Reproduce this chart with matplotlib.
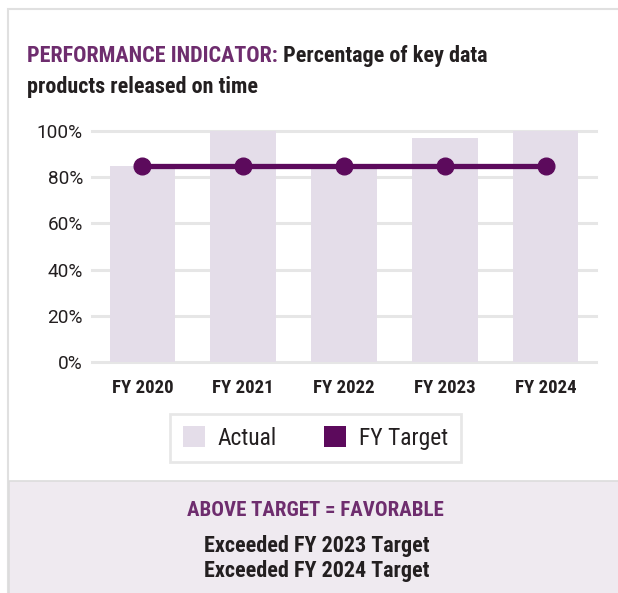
import matplotlib
matplotlib.use("Agg")
import matplotlib.pyplot as plt
from matplotlib.patches import Rectangle, Patch
from matplotlib import font_manager as fm

categories = ["FY 2020", "FY 2021", "FY 2022", "FY 2023", "FY 2024"]
actual = [85, 100, 85, 97, 100]
target = [85, 85, 85, 85, 85]
yticks = [0, 20, 40, 60, 80, 100]
ytick_labels = ["0%", "20%", "40%", "60%", "80%", "100%"]

W, H = 618, 593
BAR = "#E4DDE9"
LINE = "#5C0A5C"
PURPLE = "#6E2D6E"
DARK = "#231F20"
GRID = "#E6E6E6"


def pick_font(bold):
    """Find the narrowest installed sans font file."""
    cands = []
    for f in fm.fontManager.ttflist:
        name = f.name.lower()
        fname = f.fname.lower()
        is_bold = (f.weight in ("bold", 700, 800, "heavy", "extra bold")
                   or (isinstance(f.weight, int) and f.weight >= 600)
                   or "bold" in fname)
        if bold != is_bold:
            continue
        if "italic" in fname or "oblique" in fname or f.style != "normal":
            continue
        narrow = ("narrow" in name or "narrow" in fname or "condensed" in name
                  or "condensed" in fname or "condensed" in str(f.stretch))
        if not narrow or "mono" in name or "serif" in name and "sans" not in name:
            continue
        if "semi" in fname or "extra" in fname or "ultra" in fname:
            pri = 5
        else:
            pri = 0
        if "liberation" in name:
            pri += 0
        elif "roboto" in name:
            pri += 1
        elif "open" in name:
            pri += 2
        elif "noto" in name:
            pri += 3
        else:
            pri += 4
        cands.append((pri, f.fname))
    if cands:
        cands.sort()
        return fm.FontProperties(fname=cands[0][1])
    return fm.FontProperties(family=["Roboto", "Liberation Sans", "DejaVu Sans"],
                             weight="bold" if bold else "normal")


FB = pick_font(True)
FR = pick_font(False)
FTICK = fm.FontProperties(family=["Roboto", "DejaVu Sans"])

fig = plt.figure(figsize=(W / 100, H / 100), dpi=100)
fig.patch.set_facecolor("white")


def fx(px):
    return px / W


def fy(py):
    return 1 - py / H


fig.patches.append(Rectangle((fx(7.5), fy(592)), fx(700), fy(8.5) - fy(592),
                             transform=fig.transFigure, facecolor="white",
                             edgecolor="#E0E0E0", linewidth=1.5, zorder=-2))
fig.patches.append(Rectangle((fx(8.5), fy(600)), fx(700), fy(481) - fy(600),
                             transform=fig.transFigure, facecolor="#EFEAF0",
                             edgecolor="#DCDCDC", linewidth=1.2, zorder=-1))

ax = fig.add_axes([fx(92), fy(362), fx(596) - fx(92), fy(131) - fy(362)])
ax.set_facecolor("none")
x = list(range(len(categories)))
ax.bar(x, actual, width=0.65, color=BAR, zorder=2)
ax.plot(x, target, color=LINE, linewidth=3.8, marker="o", markersize=12, zorder=3)
ax.set_xlim(-0.5, 4.5)
ax.set_ylim(0, 100)
for t in yticks:
    ax.axhline(t, color=GRID, linewidth=2.2, zorder=1, clip_on=False)
for s in ax.spines.values():
    s.set_visible(False)
ax.set_yticks(yticks)
ax.set_yticklabels(ytick_labels, fontproperties=FTICK, color=DARK)
ax.set_xticks(x)
ax.set_xticklabels(categories, fontproperties=FB, color=DARK)
ax.tick_params(axis="y", length=0, pad=6.5)
ax.tick_params(axis="x", length=0, pad=12)

renderer = fig.canvas.get_renderer()


def width_px(artists):
    fig.canvas.draw()
    bbs = [a.get_window_extent(renderer) for a in artists]
    return max(b.x1 for b in bbs) - min(b.x0 for b in bbs)


def fit(artists, target_w):
    for a in artists:
        a.set_fontsize(12)
    w = width_px(artists)
    for a in artists:
        a.set_fontsize(12 * target_w / w)
    return 12 * target_w / w


fit([ax.get_yticklabels()[-1]], 46)
s = ax.get_yticklabels()[-1].get_fontsize()
for lab in ax.get_yticklabels():
    lab.set_fontsize(s)
fit([ax.get_xticklabels()[0]], 61)
s = ax.get_xticklabels()[0].get_fontsize()
for lab in ax.get_xticklabels():
    lab.set_fontsize(s)

# title
t1 = fig.text(fx(27), fy(62), "PERFORMANCE INDICATOR:", fontproperties=FB,
              color=PURPLE, va="baseline", ha="left")
t2 = fig.text(fx(260), fy(62), " Percentage of key data", fontproperties=FB,
              color=DARK, va="baseline", ha="left")
t3 = fig.text(fx(27), fy(93), "products released on time", fontproperties=FB,
              color=DARK, va="baseline", ha="left")
for a in (t1, t2):
    a.set_fontsize(12)
fig.canvas.draw()
w_total = t1.get_window_extent(renderer).width + t2.get_window_extent(renderer).width
ts = 12 * 462 / w_total
for a in (t1, t2, t3):
    a.set_fontsize(ts)
fig.canvas.draw()
t2.set_x(t1.get_window_extent(renderer).x1 / W)

# bottom notes
n1 = fig.text(fx(315.5), fy(516), "ABOVE TARGET = FAVORABLE", fontproperties=FB,
              color=PURPLE, va="baseline", ha="center")
fit([n1], 256)
n2 = fig.text(fx(316.5), fy(552), "Exceeded FY 2023 Target", fontproperties=FB,
              color=DARK, va="baseline", ha="center")
n3 = fig.text(fx(316.5), fy(577), "Exceeded FY 2024 Target", fontproperties=FB,
              color=DARK, va="baseline", ha="center")
ns = fit([n2], 226)
n3.set_fontsize(ns)

# legend
probe = fig.text(0, 0, "Actual", fontproperties=FR)
ls = fit([probe], 59)
probe.remove()
lpx = ls * 100 / 72
lp = FR.copy()
lp.set_size(ls)
handles = [Patch(facecolor=BAR, edgecolor="none", label="Actual"),
           Patch(facecolor=LINE, edgecolor="none", label="FY Target")]
leg = fig.legend(handles=handles, loc="center", bbox_to_anchor=(fx(315.5), fy(438)),
                 ncol=2, frameon=True, fancybox=False, edgecolor="#E2E2E2",
                 prop=lp, handlelength=22 / lpx, handleheight=22 / lpx,
                 handletextpad=13 / lpx, columnspacing=47 / lpx,
                 borderpad=0.55, borderaxespad=0)
leg.get_frame().set_linewidth(2)
for t in leg.get_texts():
    t.set_color(DARK)

fig.savefig("out.png", dpi=100)
